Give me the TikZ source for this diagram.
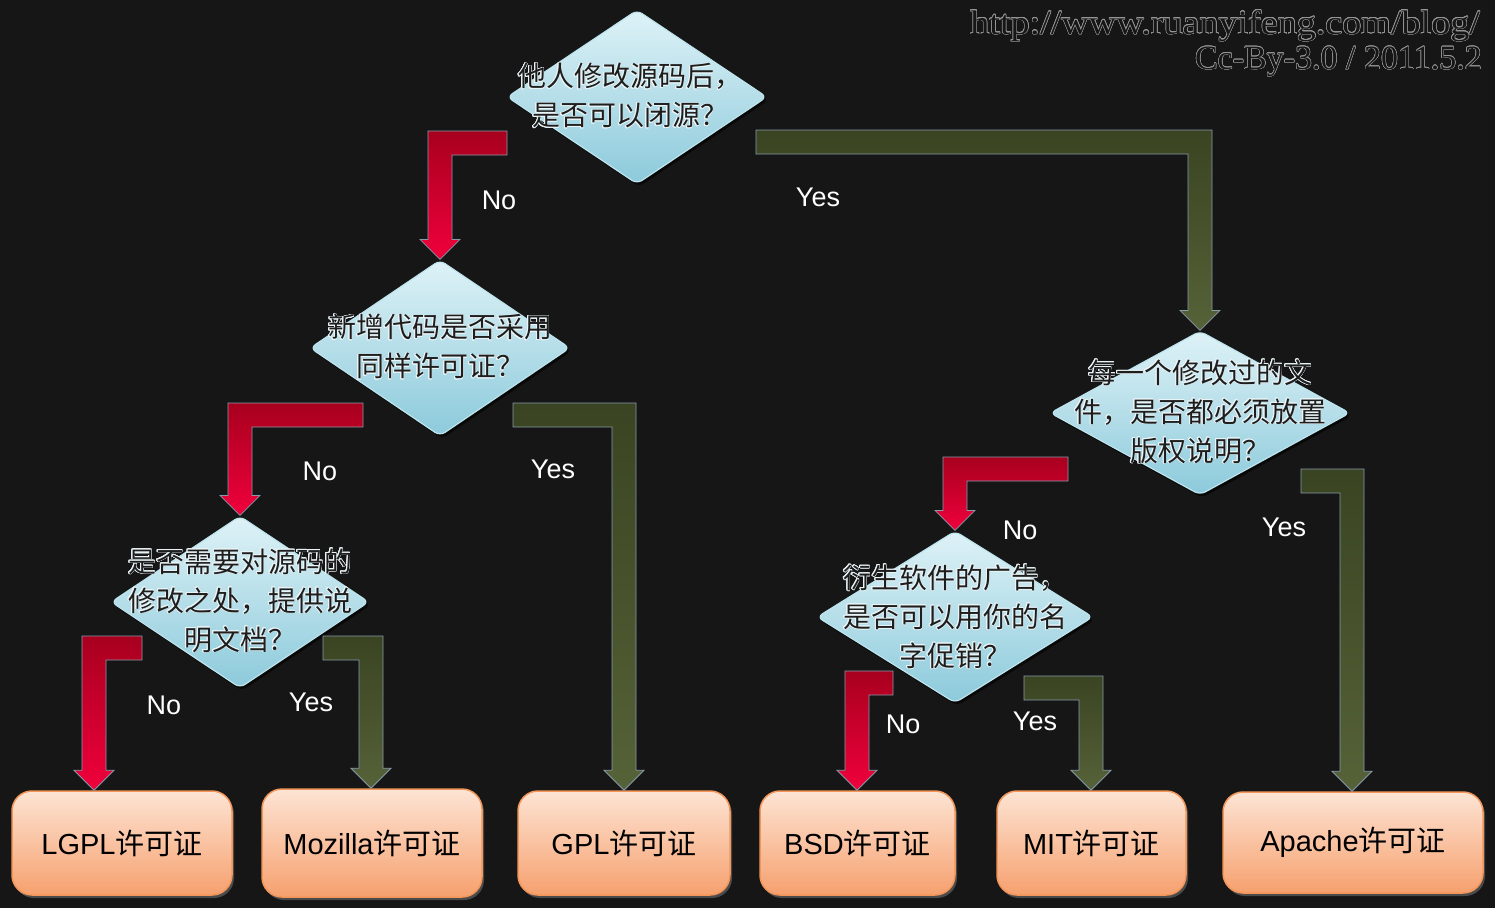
\documentclass[tikz,border=0pt]{standalone}
\usepackage{fontspec}
\usepackage{contour}
\usetikzlibrary{shapes.geometric,shadows,calc}
\newfontfamily\cjk{Noto Sans CJK SC}
\newfontfamily\lsans{Liberation Sans}
\newfontfamily\lserif{Liberation Serif}
\definecolor{bg}{RGB}{22,22,22}
\definecolor{dtop}{RGB}{222,242,247}
\definecolor{dmid}{RGB}{172,219,231}
\definecolor{dbot}{RGB}{140,202,219}
\definecolor{dline}{RGB}{190,228,238}
\definecolor{qtxt}{RGB}{30,30,30}
\definecolor{qglow}{RGB}{235,245,248}
\definecolor{btop}{RGB}{253,228,212}
\definecolor{bmid}{RGB}{250,190,150}
\definecolor{bbot}{RGB}{246,160,110}
\definecolor{bline}{RGB}{243,150,90}
\definecolor{rtop}{RGB}{168,0,30}
\definecolor{rbot}{RGB}{240,0,60}
\definecolor{gtop}{RGB}{58,68,34}
\definecolor{gbot}{RGB}{86,98,56}
\definecolor{aline}{RGB}{135,155,170}
\definecolor{wm}{RGB}{150,150,150}
\contourlength{0.5pt}
\contournumber{16}
\newcommand\ql[1]{\contour{qglow}{#1}}
\tikzset{
  decision/.style={diamond, inner sep=0pt, draw=dline, line width=1.2pt,
    rounded corners=6pt, top color=dtop, middle color=dmid, bottom color=dbot,
    drop shadow={shadow xshift=2pt, shadow yshift=-3pt, fill=black, opacity=0.6}},
  qtext/.style={font=\cjk\fontsize{28}{39}\selectfont\contourlength{0.7pt}, text=qtxt, align=center, inner sep=0pt},
  licence/.style={rectangle, rounded corners=20pt, draw=bline, line width=1.5pt,
    top color=btop, middle color=bmid, bottom color=bbot, text=black,
    font=\fontsize{29}{32}\selectfont,
    drop shadow={shadow xshift=2pt, shadow yshift=-3pt, fill=gray, opacity=0.5}},
  yn/.style={font=\lsans\fontsize{27}{30}\selectfont, text=white, inner sep=0pt},
  noarr/.style={draw=aline, line width=0.8pt, top color=rtop, bottom color=rbot},
  yesarr/.style={draw=aline, line width=0.8pt, top color=gtop, bottom color=gbot},
  wmark/.style={font=\lserif\fontsize{34}{36}\selectfont, inner sep=0pt}
}
% #1 start coordinate (top of free bar end), #2 tip x, #3 target node
\newcommand\noarrow[3]{%
  \path[noarr] let \p1=(#1), \p2=(#3.north) in
  (\x1,\y1) -- (#2pt-12pt,\y1) -- (#2pt-12pt,\y2+20pt) -- (#2pt-20pt,\y2+20pt)
  -- (#2pt,\y2) -- (#2pt+20pt,\y2+20pt) -- (#2pt+12pt,\y2+20pt)
  -- (#2pt+12pt,\y1-24pt) -- (\x1,\y1-24pt) -- cycle;}
\newcommand\yesarrow[3]{%
  \path[yesarr] let \p1=(#1), \p2=(#3.north) in
  (\x1,\y1) -- (#2pt+12pt,\y1) -- (#2pt+12pt,\y2+20pt) -- (#2pt+20pt,\y2+20pt)
  -- (#2pt,\y2) -- (#2pt-20pt,\y2+20pt) -- (#2pt-12pt,\y2+20pt)
  -- (#2pt-12pt,\y1-24pt) -- (\x1,\y1-24pt) -- cycle;}
\begin{document}
\begin{tikzpicture}[x=1pt,y=-1pt]
\fill[bg] (0,0) rectangle (1495,908);
\useasboundingbox (0,0) rectangle (1495,908);

% watermark
\node[wmark, anchor=east] (wm1) at (1480,26) {\scalebox{1.12}[1]{\contour{wm}{\textcolor{bg}{http://www.ruanyifeng.com/blog/}}}};
\node[wmark, anchor=east] (wm2) at (1482,62) {\contour{wm}{\textcolor{bg}{Cc-By-3.0 / 2011.5.2}}};

% decisions
\node[decision, minimum width=260pt, minimum height=174pt] (d1) at (637,97) {};
\node[decision, minimum width=260pt, minimum height=176pt] (d2) at (440,348) {};
\node[decision, minimum width=258pt, minimum height=172pt] (d3) at (240,602) {};
\node[decision, minimum width=300pt, minimum height=164pt] (d4) at (1200,413) {};
\node[decision, minimum width=276pt, minimum height=172pt] (d5) at (955,617) {};

% licences
\node[licence, minimum width=220pt, minimum height=104pt] (lgpl) at (122,843) {{\lsans LGPL}{\cjk 许可证}};
\node[licence, minimum width=220pt, minimum height=108pt] (mpl) at (372,843) {{\lsans Mozilla}{\cjk 许可证}};
\node[licence, minimum width=212pt, minimum height=104pt] (gpl) at (624,843) {{\lsans GPL}{\cjk 许可证}};
\node[licence, minimum width=195pt, minimum height=104pt] (bsd) at (857.5,843) {{\lsans BSD}{\cjk 许可证}};
\node[licence, minimum width=189pt, minimum height=104pt] (mit) at (1091.5,843) {{\lsans MIT}{\cjk 许可证}};
\node[licence, minimum width=260pt, minimum height=101pt] (apa) at (1353,842.5) {{\lsans Apache}{\cjk 许可证}};

% arrow start points
\coordinate (s1) at (507,131);
\coordinate (s2) at (756,130);
\coordinate (s3) at (363,403);
\coordinate (s4) at (513,403);
\coordinate (s5) at (142,636);
\coordinate (s6) at (323,636);
\coordinate (s7) at (1068,457);
\coordinate (s8) at (1301,469);
\coordinate (s9) at (893,671);
\coordinate (s10) at (1024,676);

\noarrow{s1}{440}{d2}
\yesarrow{s2}{1200}{d4}
\noarrow{s3}{240}{d3}
\yesarrow{s4}{624}{gpl}
\noarrow{s5}{94}{lgpl}
\yesarrow{s6}{371}{mpl}
\noarrow{s7}{955}{d5}
\yesarrow{s8}{1352}{apa}
\noarrow{s9}{857}{bsd}
\yesarrow{s10}{1091}{mit}

% question texts
\node[qtext] (q1) at (630,96) {\ql{他人修改源码后，}\\\ql{是否可以闭源？}};
\node[qtext] (q2) at (440,347) {\ql{新增代码是否采用}\\\ql{同样许可证？}};
\node[qtext] (q3) at (240,601) {\ql{是否需要对源码的}\\\ql{修改之处，提供说}\\\ql{明文档？}};
\node[qtext] (q4) at (1200,412) {\ql{每一个修改过的文}\\\ql{件，是否都必须放置}\\\ql{版权说明？}};
\node[qtext] (q5) at (955,617) {\ql{衍生软件的广告，}\\\ql{是否可以用你的名}\\\ql{字促销？}};

% labels
\node[yn] (l1) at (499,200) {No};
\node[yn] (l2) at (818,197) {Yes};
\node[yn] (l3) at (320,471) {No};
\node[yn] (l4) at (553,469) {Yes};
\node[yn] (l5) at (164,705) {No};
\node[yn] (l6) at (311,702) {Yes};
\node[yn] (l7) at (1020,530) {No};
\node[yn] (l8) at (1284,527) {Yes};
\node[yn] (l9) at (903,724) {No};
\node[yn] (l10) at (1035,721) {Yes};
\end{tikzpicture}
\end{document}
